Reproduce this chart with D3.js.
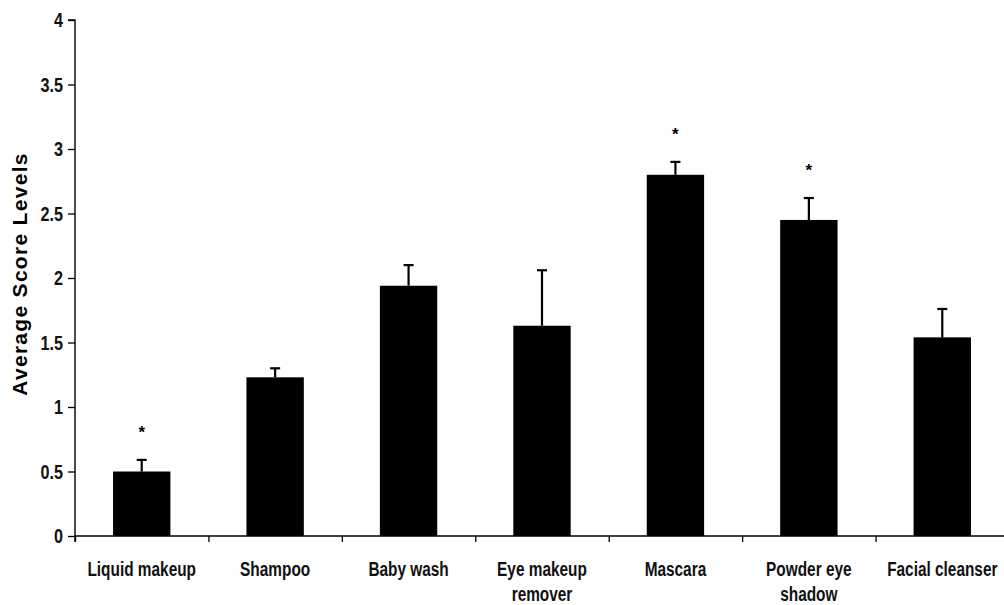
<!DOCTYPE html>
<html>
<head>
<meta charset="utf-8">
<script src="https://cdn.jsdelivr.net/npm/d3@7"></script>
<style>
  body { margin: 0; background: #fff; }
</style>
</head>
<body>
<div id="container"></div>
<script>
let w = 1004;
let h = 605;

// data
let categories = ["Liquid makeup", "Shampoo", "Baby wash", "Eye makeup remover", "Mascara", "Powder eye shadow", "Facial cleanser"];
let labelLines = [["Liquid makeup"], ["Shampoo"], ["Baby wash"], ["Eye makeup", "remover"], ["Mascara"], ["Powder eye", "shadow"], ["Facial cleanser"]];
let scores = [0.50, 1.23, 1.94, 1.63, 2.80, 2.45, 1.54];
let errors = [0.09, 0.07, 0.16, 0.43, 0.10, 0.17, 0.22];
let significant = [true, false, false, false, true, true, false];
let yTicks = [0, 0.5, 1, 1.5, 2, 2.5, 3, 3.5, 4];

let plotLeft = 75, plotRight = 1009, plotTop = 20, plotBottom = 536;
let squeeze = 0.77; // narrow-font look

let viz = d3.select("#container")
  .append("svg")
    .attr("width", w)
    .attr("height", h)
    .style("background-color", "white")
;

let xScale = d3.scaleBand().domain(categories).range([plotLeft, plotRight]).padding(0);
let yScale = d3.scaleLinear().domain([0, 4]).range([plotBottom, plotTop]);
// boundaries between categories get the tick marks
let edgeScale = d3.scaleLinear().domain([0, categories.length]).range([plotLeft, plotRight]);

let barW = xScale.bandwidth() * 0.43;

// y axis
let yAxis = d3.axisLeft(yScale)
  .tickValues(yTicks)
  .tickSize(7)
  .tickFormat(d3.format("~g"));
let yG = viz.append("g")
  .attr("transform", "translate(" + plotLeft + ",0)")
  .call(yAxis);
yG.select(".domain").attr("stroke-width", 1.4).attr("d", "M-7," + plotTop + "H0V" + (plotBottom + 6));
yG.selectAll(".tick line").attr("stroke-width", 1.3);
yG.selectAll(".tick text")
  .attr("x", -12 / squeeze)
  .attr("transform", "scale(" + squeeze + ",1)")
  .attr("fill", "#111")
  .style("font-family", "\"Liberation Sans\", Arial, sans-serif")
  .style("font-size", "21px")
  .style("font-weight", "bold");

// x axis
let xAxis = d3.axisBottom(edgeScale)
  .tickValues(d3.range(0, categories.length + 1))
  .tickSize(6)
  .tickFormat("");
let xG = viz.append("g")
  .attr("transform", "translate(0," + plotBottom + ")")
  .call(xAxis);
xG.select(".domain").attr("stroke-width", 1.4).attr("d", "M" + plotLeft + ",0H" + plotRight);
xG.selectAll(".tick line").attr("stroke-width", 1.3);

// bars
let groups = viz.selectAll(".datagroup").data(categories).enter()
  .append("g")
    .attr("class", "datagroup");

groups.append("rect")
  .attr("x", (d) => xScale(d) + xScale.bandwidth() / 2 - barW / 2)
  .attr("y", (d, i) => yScale(scores[i]))
  .attr("width", barW)
  .attr("height", (d, i) => plotBottom - yScale(scores[i]))
  .attr("fill", "black");

// error bars (upper only)
groups.append("line")
  .attr("x1", (d) => xScale(d) + xScale.bandwidth() / 2)
  .attr("x2", (d) => xScale(d) + xScale.bandwidth() / 2)
  .attr("y1", (d, i) => yScale(scores[i]))
  .attr("y2", (d, i) => yScale(scores[i] + errors[i]))
  .attr("stroke", "black")
  .attr("stroke-width", 2.2);
groups.append("line")
  .attr("x1", (d) => xScale(d) + xScale.bandwidth() / 2 - 5)
  .attr("x2", (d) => xScale(d) + xScale.bandwidth() / 2 + 5)
  .attr("y1", (d, i) => yScale(scores[i] + errors[i]))
  .attr("y2", (d, i) => yScale(scores[i] + errors[i]))
  .attr("stroke", "black")
  .attr("stroke-width", 2.2);

// significance stars
groups.filter((d, i) => significant[i])
  .append("text")
  .attr("x", (d) => xScale(d) + xScale.bandwidth() / 2)
  .attr("y", (d) => { let i = categories.indexOf(d); return yScale(scores[i] + errors[i]) - 22; })
  .attr("text-anchor", "middle")
  .style("font-family", "\"Liberation Sans\", sans-serif")
  .style("font-size", "17px")
  .style("font-weight", "bold")
  .text("*");

// category labels (squeezed horizontally like a narrow face)
let labels = groups.append("text")
  .attr("transform", (d) => "translate(" + (xScale(d) + xScale.bandwidth() / 2) + ",0) scale(" + squeeze + ",1)")
  .attr("text-anchor", "middle")
  .attr("fill", "#111")
  .style("font-family", "\"Liberation Sans\", Arial, sans-serif")
  .style("font-size", "20px")
  .style("font-weight", "bold");
labels.selectAll("tspan")
  .data((d, i) => labelLines[i])
  .enter()
  .append("tspan")
    .attr("x", 0)
    .attr("y", (d, j) => 576 + j * 25)
    .text((d) => d);

// y axis title
viz.append("text")
  .attr("transform", "translate(27,274) rotate(-90)")
  .attr("text-anchor", "middle")
  .style("font-family", "\"Liberation Sans\", Arial, sans-serif")
  .style("font-size", "21px")
  .style("font-weight", "bold")
  .style("letter-spacing", "1.3px")
  .text("Average Score Levels");
</script>
</body>
</html>
